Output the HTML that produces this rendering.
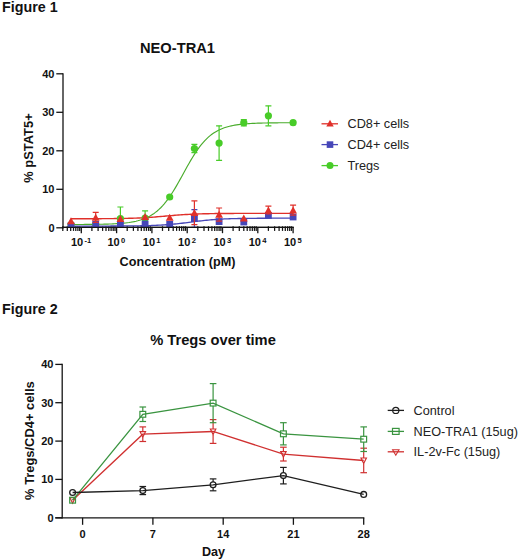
<!DOCTYPE html>
<html><head><meta charset="utf-8"><style>
html,body{margin:0;padding:0;background:#fff;}
body{width:520px;height:560px;overflow:hidden;}
svg{display:block;font-family:"Liberation Sans", sans-serif;}
</style></head><body>
<svg width="520" height="560" viewBox="0 0 520 560">
<text x="2" y="11.5" font-size="14.3" font-weight="bold" fill="#111">Figure 1</text>
<text x="177.5" y="52.7" font-size="14.7" font-weight="bold" fill="#111" text-anchor="middle">NEO-TRA1</text>
<text transform="translate(33,148) rotate(-90)" font-size="12.9" font-weight="bold" fill="#111" text-anchor="middle">% pSTAT5+</text>
<text x="177.5" y="266.3" font-size="12.65" font-weight="bold" fill="#111" text-anchor="middle">Concentration (pM)</text>
<line x1="63" y1="73.20000000000002" x2="63" y2="228.4" stroke="#141414" stroke-width="1.3"/>
<line x1="56.3" y1="227.8" x2="63" y2="227.8" stroke="#141414" stroke-width="1.3"/>
<text x="54.5" y="231.7" font-size="11" font-weight="bold" fill="#111" text-anchor="end">0</text>
<line x1="56.3" y1="189.3" x2="63" y2="189.3" stroke="#141414" stroke-width="1.3"/>
<text x="54.5" y="193.2" font-size="11" font-weight="bold" fill="#111" text-anchor="end">10</text>
<line x1="56.3" y1="150.8" x2="63" y2="150.8" stroke="#141414" stroke-width="1.3"/>
<text x="54.5" y="154.7" font-size="11" font-weight="bold" fill="#111" text-anchor="end">20</text>
<line x1="56.3" y1="112.3" x2="63" y2="112.3" stroke="#141414" stroke-width="1.3"/>
<text x="54.5" y="116.2" font-size="11" font-weight="bold" fill="#111" text-anchor="end">30</text>
<line x1="56.3" y1="73.8" x2="63" y2="73.8" stroke="#141414" stroke-width="1.3"/>
<text x="54.5" y="77.7" font-size="11" font-weight="bold" fill="#111" text-anchor="end">40</text>
<line x1="62.3" y1="227.3" x2="293.7" y2="227.3" stroke="#141414" stroke-width="1.3"/>
<line x1="62.8" y1="226.3" x2="62.8" y2="230.9" stroke="#141414" stroke-width="1.25"/>
<line x1="67.3" y1="226.3" x2="67.3" y2="230.9" stroke="#141414" stroke-width="1.25"/>
<line x1="70.7" y1="226.3" x2="70.7" y2="230.9" stroke="#141414" stroke-width="1.25"/>
<line x1="73.5" y1="226.3" x2="73.5" y2="230.9" stroke="#141414" stroke-width="1.25"/>
<line x1="75.8" y1="226.3" x2="75.8" y2="230.9" stroke="#141414" stroke-width="1.25"/>
<line x1="77.9" y1="226.3" x2="77.9" y2="230.9" stroke="#141414" stroke-width="1.25"/>
<line x1="79.7" y1="226.3" x2="79.7" y2="230.9" stroke="#141414" stroke-width="1.25"/>
<line x1="81.3" y1="227.3" x2="81.3" y2="233.20000000000002" stroke="#141414" stroke-width="1.3"/>
<line x1="91.9" y1="226.3" x2="91.9" y2="230.9" stroke="#141414" stroke-width="1.25"/>
<line x1="98.1" y1="226.3" x2="98.1" y2="230.9" stroke="#141414" stroke-width="1.25"/>
<line x1="102.6" y1="226.3" x2="102.6" y2="230.9" stroke="#141414" stroke-width="1.25"/>
<line x1="106.0" y1="226.3" x2="106.0" y2="230.9" stroke="#141414" stroke-width="1.25"/>
<line x1="108.8" y1="226.3" x2="108.8" y2="230.9" stroke="#141414" stroke-width="1.25"/>
<line x1="111.1" y1="226.3" x2="111.1" y2="230.9" stroke="#141414" stroke-width="1.25"/>
<line x1="113.2" y1="226.3" x2="113.2" y2="230.9" stroke="#141414" stroke-width="1.25"/>
<line x1="115.0" y1="226.3" x2="115.0" y2="230.9" stroke="#141414" stroke-width="1.25"/>
<line x1="116.6" y1="227.3" x2="116.6" y2="233.20000000000002" stroke="#141414" stroke-width="1.3"/>
<line x1="127.2" y1="226.3" x2="127.2" y2="230.9" stroke="#141414" stroke-width="1.25"/>
<line x1="133.4" y1="226.3" x2="133.4" y2="230.9" stroke="#141414" stroke-width="1.25"/>
<line x1="137.9" y1="226.3" x2="137.9" y2="230.9" stroke="#141414" stroke-width="1.25"/>
<line x1="141.3" y1="226.3" x2="141.3" y2="230.9" stroke="#141414" stroke-width="1.25"/>
<line x1="144.1" y1="226.3" x2="144.1" y2="230.9" stroke="#141414" stroke-width="1.25"/>
<line x1="146.4" y1="226.3" x2="146.4" y2="230.9" stroke="#141414" stroke-width="1.25"/>
<line x1="148.5" y1="226.3" x2="148.5" y2="230.9" stroke="#141414" stroke-width="1.25"/>
<line x1="150.3" y1="226.3" x2="150.3" y2="230.9" stroke="#141414" stroke-width="1.25"/>
<line x1="151.9" y1="227.3" x2="151.9" y2="233.20000000000002" stroke="#141414" stroke-width="1.3"/>
<line x1="162.5" y1="226.3" x2="162.5" y2="230.9" stroke="#141414" stroke-width="1.25"/>
<line x1="168.7" y1="226.3" x2="168.7" y2="230.9" stroke="#141414" stroke-width="1.25"/>
<line x1="173.2" y1="226.3" x2="173.2" y2="230.9" stroke="#141414" stroke-width="1.25"/>
<line x1="176.6" y1="226.3" x2="176.6" y2="230.9" stroke="#141414" stroke-width="1.25"/>
<line x1="179.4" y1="226.3" x2="179.4" y2="230.9" stroke="#141414" stroke-width="1.25"/>
<line x1="181.7" y1="226.3" x2="181.7" y2="230.9" stroke="#141414" stroke-width="1.25"/>
<line x1="183.8" y1="226.3" x2="183.8" y2="230.9" stroke="#141414" stroke-width="1.25"/>
<line x1="185.6" y1="226.3" x2="185.6" y2="230.9" stroke="#141414" stroke-width="1.25"/>
<line x1="187.2" y1="227.3" x2="187.2" y2="233.20000000000002" stroke="#141414" stroke-width="1.3"/>
<line x1="197.8" y1="226.3" x2="197.8" y2="230.9" stroke="#141414" stroke-width="1.25"/>
<line x1="204.0" y1="226.3" x2="204.0" y2="230.9" stroke="#141414" stroke-width="1.25"/>
<line x1="208.5" y1="226.3" x2="208.5" y2="230.9" stroke="#141414" stroke-width="1.25"/>
<line x1="211.9" y1="226.3" x2="211.9" y2="230.9" stroke="#141414" stroke-width="1.25"/>
<line x1="214.7" y1="226.3" x2="214.7" y2="230.9" stroke="#141414" stroke-width="1.25"/>
<line x1="217.0" y1="226.3" x2="217.0" y2="230.9" stroke="#141414" stroke-width="1.25"/>
<line x1="219.1" y1="226.3" x2="219.1" y2="230.9" stroke="#141414" stroke-width="1.25"/>
<line x1="220.9" y1="226.3" x2="220.9" y2="230.9" stroke="#141414" stroke-width="1.25"/>
<line x1="222.5" y1="227.3" x2="222.5" y2="233.20000000000002" stroke="#141414" stroke-width="1.3"/>
<line x1="233.1" y1="226.3" x2="233.1" y2="230.9" stroke="#141414" stroke-width="1.25"/>
<line x1="239.3" y1="226.3" x2="239.3" y2="230.9" stroke="#141414" stroke-width="1.25"/>
<line x1="243.8" y1="226.3" x2="243.8" y2="230.9" stroke="#141414" stroke-width="1.25"/>
<line x1="247.2" y1="226.3" x2="247.2" y2="230.9" stroke="#141414" stroke-width="1.25"/>
<line x1="250.0" y1="226.3" x2="250.0" y2="230.9" stroke="#141414" stroke-width="1.25"/>
<line x1="252.3" y1="226.3" x2="252.3" y2="230.9" stroke="#141414" stroke-width="1.25"/>
<line x1="254.4" y1="226.3" x2="254.4" y2="230.9" stroke="#141414" stroke-width="1.25"/>
<line x1="256.2" y1="226.3" x2="256.2" y2="230.9" stroke="#141414" stroke-width="1.25"/>
<line x1="257.8" y1="227.3" x2="257.8" y2="233.20000000000002" stroke="#141414" stroke-width="1.3"/>
<line x1="268.4" y1="226.3" x2="268.4" y2="230.9" stroke="#141414" stroke-width="1.25"/>
<line x1="274.6" y1="226.3" x2="274.6" y2="230.9" stroke="#141414" stroke-width="1.25"/>
<line x1="279.1" y1="226.3" x2="279.1" y2="230.9" stroke="#141414" stroke-width="1.25"/>
<line x1="282.5" y1="226.3" x2="282.5" y2="230.9" stroke="#141414" stroke-width="1.25"/>
<line x1="285.3" y1="226.3" x2="285.3" y2="230.9" stroke="#141414" stroke-width="1.25"/>
<line x1="287.6" y1="226.3" x2="287.6" y2="230.9" stroke="#141414" stroke-width="1.25"/>
<line x1="289.7" y1="226.3" x2="289.7" y2="230.9" stroke="#141414" stroke-width="1.25"/>
<line x1="291.5" y1="226.3" x2="291.5" y2="230.9" stroke="#141414" stroke-width="1.25"/>
<line x1="293.1" y1="227.3" x2="293.1" y2="233.20000000000002" stroke="#141414" stroke-width="1.3"/>
<text x="81.1" y="246.3" font-size="11" font-weight="bold" fill="#111" text-anchor="middle">10<tspan dx="1.3" dy="-3.6" font-size="7.6">-1</tspan></text>
<text x="116.4" y="246.3" font-size="11" font-weight="bold" fill="#111" text-anchor="middle">10<tspan dx="1.3" dy="-3.6" font-size="7.6">0</tspan></text>
<text x="151.7" y="246.3" font-size="11" font-weight="bold" fill="#111" text-anchor="middle">10<tspan dx="1.3" dy="-3.6" font-size="7.6">1</tspan></text>
<text x="187.0" y="246.3" font-size="11" font-weight="bold" fill="#111" text-anchor="middle">10<tspan dx="1.3" dy="-3.6" font-size="7.6">2</tspan></text>
<text x="222.3" y="246.3" font-size="11" font-weight="bold" fill="#111" text-anchor="middle">10<tspan dx="1.3" dy="-3.6" font-size="7.6">3</tspan></text>
<text x="257.6" y="246.3" font-size="11" font-weight="bold" fill="#111" text-anchor="middle">10<tspan dx="1.3" dy="-3.6" font-size="7.6">4</tspan></text>
<text x="292.9" y="246.3" font-size="11" font-weight="bold" fill="#111" text-anchor="middle">10<tspan dx="1.3" dy="-3.6" font-size="7.6">5</tspan></text>
<defs><clipPath id="c1"><rect x="63" y="40" width="250" height="187.6"/></clipPath></defs><g clip-path="url(#c1)">
<path d="M70.71,224.50 L72.47,224.49 L74.24,224.49 L76.00,224.48 L77.77,224.48 L79.53,224.47 L81.30,224.46 L83.06,224.45 L84.83,224.44 L86.60,224.43 L88.36,224.42 L90.13,224.40 L91.89,224.38 L93.66,224.36 L95.42,224.34 L97.19,224.32 L98.95,224.29 L100.72,224.26 L102.48,224.22 L104.25,224.18 L106.01,224.13 L107.78,224.08 L109.54,224.02 L111.31,223.95 L113.07,223.87 L114.84,223.78 L116.60,223.69 L118.37,223.57 L120.13,223.45 L121.90,223.30 L123.66,223.14 L125.43,222.95 L127.19,222.74 L128.96,222.51 L130.72,222.24 L132.49,221.94 L134.25,221.60 L136.02,221.22 L137.78,220.79 L139.55,220.31 L141.31,219.76 L143.08,219.15 L144.84,218.47 L146.61,217.71 L148.37,216.86 L150.14,215.91 L151.90,214.85 L153.67,213.69 L155.43,212.40 L157.20,210.98 L158.96,209.42 L160.73,207.72 L162.49,205.87 L164.26,203.86 L166.02,201.69 L167.79,199.37 L169.55,196.90 L171.32,194.27 L173.08,191.51 L174.85,188.63 L176.61,185.63 L178.38,182.55 L180.14,179.39 L181.91,176.19 L183.67,172.97 L185.44,169.75 L187.20,166.56 L188.97,163.43 L190.73,160.38 L192.50,157.43 L194.26,154.59 L196.03,151.88 L197.79,149.32 L199.56,146.90 L201.32,144.65 L203.08,142.54 L204.85,140.60 L206.61,138.80 L208.38,137.16 L210.14,135.66 L211.91,134.29 L213.67,133.05 L215.44,131.93 L217.20,130.92 L218.97,130.01 L220.73,129.20 L222.50,128.47 L224.26,127.82 L226.03,127.24 L227.79,126.72 L229.56,126.25 L231.32,125.84 L233.09,125.48 L234.85,125.16 L236.62,124.87 L238.38,124.62 L240.15,124.39 L241.91,124.19 L243.68,124.02 L245.44,123.86 L247.21,123.72 L248.97,123.60 L250.74,123.50 L252.50,123.40 L254.27,123.32 L256.03,123.24 L257.80,123.18 L259.56,123.12 L261.33,123.07 L263.09,123.03 L264.86,122.99 L266.62,122.95 L268.39,122.92 L270.15,122.90 L271.92,122.87 L273.68,122.85 L275.45,122.83 L277.21,122.82 L278.98,122.80 L280.74,122.79 L282.51,122.78 L284.27,122.77 L286.04,122.76 L287.80,122.75 L289.57,122.74 L291.33,122.74 L293.10,122.73" fill="none" stroke="#4aac2c" stroke-width="1.15"/>
<path d="M70.71,226.06 L72.47,226.06 L74.24,226.06 L76.00,226.06 L77.77,226.06 L79.53,226.06 L81.30,226.06 L83.06,226.06 L84.83,226.06 L86.60,226.06 L88.36,226.06 L90.13,226.06 L91.89,226.06 L93.66,226.05 L95.42,226.05 L97.19,226.05 L98.95,226.05 L100.72,226.05 L102.48,226.04 L104.25,226.04 L106.01,226.04 L107.78,226.03 L109.54,226.03 L111.31,226.02 L113.07,226.02 L114.84,226.01 L116.60,226.01 L118.37,226.00 L120.13,225.99 L121.90,225.98 L123.66,225.97 L125.43,225.96 L127.19,225.94 L128.96,225.93 L130.72,225.91 L132.49,225.89 L134.25,225.87 L136.02,225.85 L137.78,225.83 L139.55,225.80 L141.31,225.77 L143.08,225.73 L144.84,225.69 L146.61,225.65 L148.37,225.60 L150.14,225.55 L151.90,225.49 L153.67,225.42 L155.43,225.35 L157.20,225.27 L158.96,225.18 L160.73,225.09 L162.49,224.99 L164.26,224.88 L166.02,224.75 L167.79,224.62 L169.55,224.48 L171.32,224.33 L173.08,224.17 L174.85,224.00 L176.61,223.82 L178.38,223.63 L180.14,223.43 L181.91,223.23 L183.67,223.01 L185.44,222.80 L187.20,222.57 L188.97,222.35 L190.73,222.12 L192.50,221.89 L194.26,221.67 L196.03,221.45 L197.79,221.23 L199.56,221.02 L201.32,220.81 L203.08,220.61 L204.85,220.42 L206.61,220.24 L208.38,220.07 L210.14,219.91 L211.91,219.76 L213.67,219.62 L215.44,219.49 L217.20,219.37 L218.97,219.25 L220.73,219.15 L222.50,219.06 L224.26,218.97 L226.03,218.89 L227.79,218.82 L229.56,218.76 L231.32,218.70 L233.09,218.64 L234.85,218.60 L236.62,218.55 L238.38,218.51 L240.15,218.48 L241.91,218.45 L243.68,218.42 L245.44,218.39 L247.21,218.37 L248.97,218.35 L250.74,218.33 L252.50,218.31 L254.27,218.30 L256.03,218.28 L257.80,218.27 L259.56,218.26 L261.33,218.25 L263.09,218.24 L264.86,218.24 L266.62,218.23 L268.39,218.22 L270.15,218.22 L271.92,218.21 L273.68,218.21 L275.45,218.21 L277.21,218.20 L278.98,218.20 L280.74,218.20 L282.51,218.19 L284.27,218.19 L286.04,218.19 L287.80,218.19 L289.57,218.19 L291.33,218.19 L293.10,218.18" fill="none" stroke="#4646b8" stroke-width="1.3"/>
<path d="M70.71,218.74 L72.47,218.74 L74.24,218.74 L76.00,218.74 L77.77,218.74 L79.53,218.73 L81.30,218.73 L83.06,218.73 L84.83,218.73 L86.60,218.72 L88.36,218.72 L90.13,218.71 L91.89,218.71 L93.66,218.70 L95.42,218.70 L97.19,218.69 L98.95,218.69 L100.72,218.68 L102.48,218.67 L104.25,218.66 L106.01,218.65 L107.78,218.63 L109.54,218.62 L111.31,218.60 L113.07,218.59 L114.84,218.57 L116.60,218.55 L118.37,218.52 L120.13,218.50 L121.90,218.47 L123.66,218.43 L125.43,218.40 L127.19,218.36 L128.96,218.31 L130.72,218.26 L132.49,218.21 L134.25,218.15 L136.02,218.09 L137.78,218.02 L139.55,217.94 L141.31,217.86 L143.08,217.77 L144.84,217.67 L146.61,217.57 L148.37,217.46 L150.14,217.34 L151.90,217.22 L153.67,217.09 L155.43,216.95 L157.20,216.81 L158.96,216.67 L160.73,216.52 L162.49,216.37 L164.26,216.21 L166.02,216.06 L167.79,215.90 L169.55,215.75 L171.32,215.60 L173.08,215.45 L174.85,215.30 L176.61,215.16 L178.38,215.03 L180.14,214.90 L181.91,214.77 L183.67,214.66 L185.44,214.55 L187.20,214.44 L188.97,214.35 L190.73,214.26 L192.50,214.18 L194.26,214.10 L196.03,214.03 L197.79,213.97 L199.56,213.91 L201.32,213.85 L203.08,213.80 L204.85,213.76 L206.61,213.72 L208.38,213.68 L210.14,213.65 L211.91,213.62 L213.67,213.59 L215.44,213.57 L217.20,213.55 L218.97,213.53 L220.73,213.51 L222.50,213.49 L224.26,213.48 L226.03,213.47 L227.79,213.46 L229.56,213.45 L231.32,213.44 L233.09,213.43 L234.85,213.42 L236.62,213.42 L238.38,213.41 L240.15,213.40 L241.91,213.40 L243.68,213.40 L245.44,213.39 L247.21,213.39 L248.97,213.39 L250.74,213.38 L252.50,213.38 L254.27,213.38 L256.03,213.38 L257.80,213.38 L259.56,213.37 L261.33,213.37 L263.09,213.37 L264.86,213.37 L266.62,213.37 L268.39,213.37 L270.15,213.37 L271.92,213.37 L273.68,213.37 L275.45,213.37 L277.21,213.37 L278.98,213.37 L280.74,213.37 L282.51,213.37 L284.27,213.36 L286.04,213.36 L287.80,213.36 L289.57,213.36 L291.33,213.36 L293.10,213.36" fill="none" stroke="#e0302a" stroke-width="1.4"/>
<circle cx="71.0" cy="224.7" r="3.6" fill="#48cc28"/>
<circle cx="95.7" cy="224.3" r="3.6" fill="#48cc28"/>
<line x1="120.4" y1="207.0" x2="120.4" y2="230.1" stroke="#48cc28" stroke-width="1.2"/>
<line x1="117.4" y1="207.0" x2="123.4" y2="207.0" stroke="#48cc28" stroke-width="1.2"/>
<line x1="117.4" y1="230.1" x2="123.4" y2="230.1" stroke="#48cc28" stroke-width="1.2"/>
<circle cx="120.4" cy="218.6" r="3.6" fill="#48cc28"/>
<line x1="145.1" y1="210.9" x2="145.1" y2="225.5" stroke="#48cc28" stroke-width="1.2"/>
<line x1="142.1" y1="210.9" x2="148.1" y2="210.9" stroke="#48cc28" stroke-width="1.2"/>
<line x1="142.1" y1="225.5" x2="148.1" y2="225.5" stroke="#48cc28" stroke-width="1.2"/>
<circle cx="145.1" cy="218.2" r="3.6" fill="#48cc28"/>
<circle cx="169.7" cy="197.0" r="3.6" fill="#48cc28"/>
<line x1="194.4" y1="144.3" x2="194.4" y2="152.7" stroke="#48cc28" stroke-width="1.2"/>
<line x1="191.4" y1="144.3" x2="197.4" y2="144.3" stroke="#48cc28" stroke-width="1.2"/>
<line x1="191.4" y1="152.7" x2="197.4" y2="152.7" stroke="#48cc28" stroke-width="1.2"/>
<circle cx="194.4" cy="148.5" r="3.6" fill="#48cc28"/>
<line x1="219.1" y1="125.8" x2="219.1" y2="160.4" stroke="#48cc28" stroke-width="1.2"/>
<line x1="216.1" y1="125.8" x2="222.1" y2="125.8" stroke="#48cc28" stroke-width="1.2"/>
<line x1="216.1" y1="160.4" x2="222.1" y2="160.4" stroke="#48cc28" stroke-width="1.2"/>
<circle cx="219.1" cy="143.1" r="3.6" fill="#48cc28"/>
<line x1="243.8" y1="119.6" x2="243.8" y2="125.8" stroke="#48cc28" stroke-width="1.2"/>
<line x1="240.8" y1="119.6" x2="246.8" y2="119.6" stroke="#48cc28" stroke-width="1.2"/>
<line x1="240.8" y1="125.8" x2="246.8" y2="125.8" stroke="#48cc28" stroke-width="1.2"/>
<circle cx="243.8" cy="122.7" r="3.6" fill="#48cc28"/>
<line x1="268.4" y1="105.8" x2="268.4" y2="125.8" stroke="#48cc28" stroke-width="1.2"/>
<line x1="265.4" y1="105.8" x2="271.4" y2="105.8" stroke="#48cc28" stroke-width="1.2"/>
<line x1="265.4" y1="125.8" x2="271.4" y2="125.8" stroke="#48cc28" stroke-width="1.2"/>
<circle cx="268.4" cy="115.8" r="3.6" fill="#48cc28"/>
<circle cx="293.1" cy="122.7" r="3.6" fill="#48cc28"/>
<rect x="67.6" y="222.5" width="6.8" height="6.8" fill="#4646b8"/>
<rect x="92.3" y="220.9" width="6.8" height="6.8" fill="#4646b8"/>
<rect x="117.0" y="220.9" width="6.8" height="6.8" fill="#4646b8"/>
<rect x="141.7" y="220.6" width="6.8" height="6.8" fill="#4646b8"/>
<rect x="166.3" y="220.9" width="6.8" height="6.8" fill="#4646b8"/>
<line x1="194.4" y1="209.7" x2="194.4" y2="227.4" stroke="#4646b8" stroke-width="1.2"/>
<line x1="191.4" y1="209.7" x2="197.4" y2="209.7" stroke="#4646b8" stroke-width="1.2"/>
<line x1="191.4" y1="227.4" x2="197.4" y2="227.4" stroke="#4646b8" stroke-width="1.2"/>
<rect x="191.0" y="215.2" width="6.8" height="6.8" fill="#4646b8"/>
<rect x="215.7" y="218.2" width="6.8" height="6.8" fill="#4646b8"/>
<rect x="240.4" y="218.6" width="6.8" height="6.8" fill="#4646b8"/>
<rect x="265.0" y="212.1" width="6.8" height="6.8" fill="#4646b8"/>
<rect x="289.7" y="213.6" width="6.8" height="6.8" fill="#4646b8"/>
<path d="M71.0,217.2 L74.9,224.2 L67.1,224.2 Z" fill="#e0302a"/>
<line x1="95.7" y1="212.4" x2="95.7" y2="222.4" stroke="#e0302a" stroke-width="1.2"/>
<line x1="92.7" y1="212.4" x2="98.7" y2="212.4" stroke="#e0302a" stroke-width="1.2"/>
<line x1="92.7" y1="222.4" x2="98.7" y2="222.4" stroke="#e0302a" stroke-width="1.2"/>
<path d="M95.7,213.7 L99.6,220.7 L91.8,220.7 Z" fill="#e0302a"/>
<path d="M120.4,214.9 L124.3,221.9 L116.5,221.9 Z" fill="#e0302a"/>
<path d="M145.1,212.9 L149.0,219.9 L141.2,219.9 Z" fill="#e0302a"/>
<path d="M169.7,213.7 L173.6,220.7 L165.8,220.7 Z" fill="#e0302a"/>
<line x1="194.4" y1="200.9" x2="194.4" y2="224.7" stroke="#e0302a" stroke-width="1.2"/>
<line x1="191.4" y1="200.9" x2="197.4" y2="200.9" stroke="#e0302a" stroke-width="1.2"/>
<line x1="191.4" y1="224.7" x2="197.4" y2="224.7" stroke="#e0302a" stroke-width="1.2"/>
<path d="M194.4,209.1 L198.3,216.1 L190.5,216.1 Z" fill="#e0302a"/>
<line x1="219.1" y1="208.0" x2="219.1" y2="221.1" stroke="#e0302a" stroke-width="1.2"/>
<line x1="216.1" y1="208.0" x2="222.1" y2="208.0" stroke="#e0302a" stroke-width="1.2"/>
<line x1="216.1" y1="221.1" x2="222.1" y2="221.1" stroke="#e0302a" stroke-width="1.2"/>
<path d="M219.1,210.8 L223.0,217.8 L215.2,217.8 Z" fill="#e0302a"/>
<path d="M243.8,214.5 L247.7,221.5 L239.9,221.5 Z" fill="#e0302a"/>
<line x1="268.4" y1="206.2" x2="268.4" y2="213.9" stroke="#e0302a" stroke-width="1.2"/>
<line x1="265.4" y1="206.2" x2="271.4" y2="206.2" stroke="#e0302a" stroke-width="1.2"/>
<line x1="265.4" y1="213.9" x2="271.4" y2="213.9" stroke="#e0302a" stroke-width="1.2"/>
<path d="M268.4,206.4 L272.3,213.4 L264.5,213.4 Z" fill="#e0302a"/>
<line x1="293.1" y1="205.1" x2="293.1" y2="215.1" stroke="#e0302a" stroke-width="1.2"/>
<line x1="290.1" y1="205.1" x2="296.1" y2="205.1" stroke="#e0302a" stroke-width="1.2"/>
<line x1="290.1" y1="215.1" x2="296.1" y2="215.1" stroke="#e0302a" stroke-width="1.2"/>
<path d="M293.1,206.4 L297.0,213.4 L289.2,213.4 Z" fill="#e0302a"/>
</g>
<line x1="62.3" y1="227.3" x2="293.7" y2="227.3" stroke="#141414" stroke-width="1.3"/>
<line x1="321.5" y1="123.8" x2="338" y2="123.8" stroke="#e0302a" stroke-width="1.3"/>
<path d="M330,119.8 L333.7,126.39999999999999 L326.3,126.39999999999999 Z" fill="#e0302a"/>
<text x="347.5" y="128.0" font-size="12.7" fill="#222">CD8+ cells</text>
<line x1="321.5" y1="144.6" x2="338" y2="144.6" stroke="#4646b8" stroke-width="1.3"/>
<rect x="326.7" y="141.29999999999998" width="6.6" height="6.6" fill="#4646b8"/>
<text x="347.5" y="148.8" font-size="12.7" fill="#222">CD4+ cells</text>
<line x1="321.5" y1="165.6" x2="338" y2="165.6" stroke="#48cc28" stroke-width="1.3"/>
<circle cx="330" cy="165.6" r="3.5" fill="#48cc28"/>
<text x="347.5" y="169.8" font-size="12.7" fill="#222">Tregs</text>
<text x="2" y="313.8" font-size="14.3" font-weight="bold" fill="#111">Figure 2</text>
<text x="213" y="344.8" font-size="14.7" font-weight="bold" fill="#111" text-anchor="middle">% Tregs over time</text>
<text transform="translate(34,440.6) rotate(-90)" font-size="12.9" font-weight="bold" fill="#111" text-anchor="middle">% Tregs/CD4+ cells</text>
<text x="213.5" y="555.8" font-size="12.6" font-weight="bold" fill="#111" text-anchor="middle">Day</text>
<line x1="62.2" y1="363.8" x2="62.2" y2="518.4" stroke="#141414" stroke-width="1.3"/>
<line x1="55.3" y1="517.8" x2="62.2" y2="517.8" stroke="#141414" stroke-width="1.3"/>
<text x="53.5" y="521.7" font-size="11" font-weight="bold" fill="#111" text-anchor="end">0</text>
<line x1="55.3" y1="479.4" x2="62.2" y2="479.4" stroke="#141414" stroke-width="1.3"/>
<text x="53.5" y="483.3" font-size="11" font-weight="bold" fill="#111" text-anchor="end">10</text>
<line x1="55.3" y1="441.1" x2="62.2" y2="441.1" stroke="#141414" stroke-width="1.3"/>
<text x="53.5" y="445.0" font-size="11" font-weight="bold" fill="#111" text-anchor="end">20</text>
<line x1="55.3" y1="402.7" x2="62.2" y2="402.7" stroke="#141414" stroke-width="1.3"/>
<text x="53.5" y="406.6" font-size="11" font-weight="bold" fill="#111" text-anchor="end">30</text>
<line x1="55.3" y1="364.4" x2="62.2" y2="364.4" stroke="#141414" stroke-width="1.3"/>
<text x="53.5" y="368.3" font-size="11" font-weight="bold" fill="#111" text-anchor="end">40</text>
<line x1="55.3" y1="517.8" x2="364.3" y2="517.8" stroke="#141414" stroke-width="1.3"/>
<line x1="82.6" y1="517.8" x2="82.6" y2="524.8" stroke="#141414" stroke-width="1.3"/>
<text x="82.6" y="537.7" font-size="11" font-weight="bold" fill="#111" text-anchor="middle">0</text>
<line x1="152.9" y1="517.8" x2="152.9" y2="524.8" stroke="#141414" stroke-width="1.3"/>
<text x="152.9" y="537.7" font-size="11" font-weight="bold" fill="#111" text-anchor="middle">7</text>
<line x1="223.2" y1="517.8" x2="223.2" y2="524.8" stroke="#141414" stroke-width="1.3"/>
<text x="223.2" y="537.7" font-size="11" font-weight="bold" fill="#111" text-anchor="middle">14</text>
<line x1="293.4" y1="517.8" x2="293.4" y2="524.8" stroke="#141414" stroke-width="1.3"/>
<text x="293.4" y="537.7" font-size="11" font-weight="bold" fill="#111" text-anchor="middle">21</text>
<line x1="363.7" y1="517.8" x2="363.7" y2="524.8" stroke="#141414" stroke-width="1.3"/>
<text x="363.7" y="537.7" font-size="11" font-weight="bold" fill="#111" text-anchor="middle">28</text>
<path d="M72.6,500.2 L142.8,434.2 L213.1,431.5 L283.4,454.1 L363.7,460.5" fill="none" stroke="#d03030" stroke-width="1.3"/>
<line x1="142.8" y1="426.9" x2="142.8" y2="431.7" stroke="#d03030" stroke-width="1.2"/>
<line x1="142.8" y1="437.2" x2="142.8" y2="441.5" stroke="#d03030" stroke-width="1.2"/>
<line x1="139.5" y1="426.9" x2="146.1" y2="426.9" stroke="#d03030" stroke-width="1.2"/>
<line x1="139.5" y1="441.5" x2="146.1" y2="441.5" stroke="#d03030" stroke-width="1.2"/>
<line x1="213.1" y1="419.6" x2="213.1" y2="429.0" stroke="#d03030" stroke-width="1.2"/>
<line x1="213.1" y1="434.5" x2="213.1" y2="443.4" stroke="#d03030" stroke-width="1.2"/>
<line x1="209.8" y1="419.6" x2="216.4" y2="419.6" stroke="#d03030" stroke-width="1.2"/>
<line x1="209.8" y1="443.4" x2="216.4" y2="443.4" stroke="#d03030" stroke-width="1.2"/>
<line x1="283.4" y1="447.2" x2="283.4" y2="451.6" stroke="#d03030" stroke-width="1.2"/>
<line x1="283.4" y1="457.1" x2="283.4" y2="461.0" stroke="#d03030" stroke-width="1.2"/>
<line x1="280.1" y1="447.2" x2="286.7" y2="447.2" stroke="#d03030" stroke-width="1.2"/>
<line x1="280.1" y1="461.0" x2="286.7" y2="461.0" stroke="#d03030" stroke-width="1.2"/>
<line x1="363.7" y1="448.2" x2="363.7" y2="458.0" stroke="#d03030" stroke-width="1.2"/>
<line x1="363.7" y1="463.5" x2="363.7" y2="472.7" stroke="#d03030" stroke-width="1.2"/>
<line x1="360.4" y1="448.2" x2="367.0" y2="448.2" stroke="#d03030" stroke-width="1.2"/>
<line x1="360.4" y1="472.7" x2="367.0" y2="472.7" stroke="#d03030" stroke-width="1.2"/>
<path d="M69.9,497.7 L75.3,497.7 L72.6,503.2 Z" fill="none" stroke="#d03030" stroke-width="1.2" stroke-linejoin="miter"/>
<path d="M140.1,431.7 L145.5,431.7 L142.8,437.2 Z" fill="none" stroke="#d03030" stroke-width="1.2" stroke-linejoin="miter"/>
<path d="M210.4,429.0 L215.8,429.0 L213.1,434.5 Z" fill="none" stroke="#d03030" stroke-width="1.2" stroke-linejoin="miter"/>
<path d="M280.7,451.6 L286.1,451.6 L283.4,457.1 Z" fill="none" stroke="#d03030" stroke-width="1.2" stroke-linejoin="miter"/>
<path d="M361.0,458.0 L366.4,458.0 L363.7,463.5 Z" fill="none" stroke="#d03030" stroke-width="1.2" stroke-linejoin="miter"/>
<path d="M72.6,500.2 L142.8,414.3 L213.1,403.1 L283.4,433.8 L363.7,439.2" fill="none" stroke="#3a9440" stroke-width="1.3"/>
<line x1="142.8" y1="407.0" x2="142.8" y2="411.4" stroke="#3a9440" stroke-width="1.2"/>
<line x1="142.8" y1="417.2" x2="142.8" y2="421.5" stroke="#3a9440" stroke-width="1.2"/>
<line x1="139.5" y1="407.0" x2="146.1" y2="407.0" stroke="#3a9440" stroke-width="1.2"/>
<line x1="139.5" y1="421.5" x2="146.1" y2="421.5" stroke="#3a9440" stroke-width="1.2"/>
<line x1="213.1" y1="383.6" x2="213.1" y2="400.2" stroke="#3a9440" stroke-width="1.2"/>
<line x1="213.1" y1="406.0" x2="213.1" y2="422.7" stroke="#3a9440" stroke-width="1.2"/>
<line x1="209.8" y1="383.6" x2="216.4" y2="383.6" stroke="#3a9440" stroke-width="1.2"/>
<line x1="209.8" y1="422.7" x2="216.4" y2="422.7" stroke="#3a9440" stroke-width="1.2"/>
<line x1="283.4" y1="422.7" x2="283.4" y2="430.9" stroke="#3a9440" stroke-width="1.2"/>
<line x1="283.4" y1="436.7" x2="283.4" y2="444.9" stroke="#3a9440" stroke-width="1.2"/>
<line x1="280.1" y1="422.7" x2="286.7" y2="422.7" stroke="#3a9440" stroke-width="1.2"/>
<line x1="280.1" y1="444.9" x2="286.7" y2="444.9" stroke="#3a9440" stroke-width="1.2"/>
<line x1="363.7" y1="426.9" x2="363.7" y2="436.3" stroke="#3a9440" stroke-width="1.2"/>
<line x1="363.7" y1="442.1" x2="363.7" y2="451.5" stroke="#3a9440" stroke-width="1.2"/>
<line x1="360.4" y1="426.9" x2="367.0" y2="426.9" stroke="#3a9440" stroke-width="1.2"/>
<line x1="360.4" y1="451.5" x2="367.0" y2="451.5" stroke="#3a9440" stroke-width="1.2"/>
<rect x="69.7" y="497.3" width="5.8" height="5.8" fill="none" stroke="#3a9440" stroke-width="1.2"/>
<rect x="139.9" y="411.4" width="5.8" height="5.8" fill="none" stroke="#3a9440" stroke-width="1.2"/>
<rect x="210.2" y="400.2" width="5.8" height="5.8" fill="none" stroke="#3a9440" stroke-width="1.2"/>
<rect x="280.5" y="430.9" width="5.8" height="5.8" fill="none" stroke="#3a9440" stroke-width="1.2"/>
<rect x="360.8" y="436.3" width="5.8" height="5.8" fill="none" stroke="#3a9440" stroke-width="1.2"/>
<path d="M72.6,492.5 L142.8,490.6 L213.1,484.8 L283.4,475.6 L363.7,494.4" fill="none" stroke="#1e1e1e" stroke-width="1.3"/>
<line x1="142.8" y1="486.5" x2="142.8" y2="487.7" stroke="#1e1e1e" stroke-width="1.2"/>
<line x1="142.8" y1="493.5" x2="142.8" y2="494.6" stroke="#1e1e1e" stroke-width="1.2"/>
<line x1="139.5" y1="486.5" x2="146.1" y2="486.5" stroke="#1e1e1e" stroke-width="1.2"/>
<line x1="139.5" y1="494.6" x2="146.1" y2="494.6" stroke="#1e1e1e" stroke-width="1.2"/>
<line x1="213.1" y1="478.9" x2="213.1" y2="481.9" stroke="#1e1e1e" stroke-width="1.2"/>
<line x1="213.1" y1="487.7" x2="213.1" y2="490.8" stroke="#1e1e1e" stroke-width="1.2"/>
<line x1="209.8" y1="478.9" x2="216.4" y2="478.9" stroke="#1e1e1e" stroke-width="1.2"/>
<line x1="209.8" y1="490.8" x2="216.4" y2="490.8" stroke="#1e1e1e" stroke-width="1.2"/>
<line x1="283.4" y1="467.4" x2="283.4" y2="472.7" stroke="#1e1e1e" stroke-width="1.2"/>
<line x1="283.4" y1="478.5" x2="283.4" y2="483.9" stroke="#1e1e1e" stroke-width="1.2"/>
<line x1="280.1" y1="467.4" x2="286.7" y2="467.4" stroke="#1e1e1e" stroke-width="1.2"/>
<line x1="280.1" y1="483.9" x2="286.7" y2="483.9" stroke="#1e1e1e" stroke-width="1.2"/>
<circle cx="72.6" cy="492.5" r="2.9" fill="none" stroke="#1e1e1e" stroke-width="1.3"/>
<circle cx="142.8" cy="490.6" r="2.9" fill="none" stroke="#1e1e1e" stroke-width="1.3"/>
<circle cx="213.1" cy="484.8" r="2.9" fill="none" stroke="#1e1e1e" stroke-width="1.3"/>
<circle cx="283.4" cy="475.6" r="2.9" fill="none" stroke="#1e1e1e" stroke-width="1.3"/>
<circle cx="363.7" cy="494.4" r="2.9" fill="none" stroke="#1e1e1e" stroke-width="1.3"/>
<line x1="387.7" y1="410.4" x2="404" y2="410.4" stroke="#1e1e1e" stroke-width="1.3"/>
<circle cx="395.8" cy="410.4" r="3.1" fill="none" stroke="#1e1e1e" stroke-width="1.2"/>
<text x="413.6" y="414.7" font-size="12.7" fill="#222">Control</text>
<line x1="387.7" y1="431.4" x2="404" y2="431.4" stroke="#3a9440" stroke-width="1.3"/>
<rect x="392.5" y="428.4" width="6.6" height="6" fill="none" stroke="#3a9440" stroke-width="1.2"/>
<text x="413.6" y="435.7" font-size="12.7" fill="#222">NEO-TRA1 (15ug)</text>
<line x1="387.7" y1="451.8" x2="404" y2="451.8" stroke="#d03030" stroke-width="1.3"/>
<path d="M392.6,449.8 L399.0,449.8 L395.8,455.2 Z" fill="none" stroke="#d03030" stroke-width="1.1"/>
<text x="413.6" y="456.1" font-size="12.7" fill="#222">IL-2v-Fc (15ug)</text>
</svg>
</body></html>
